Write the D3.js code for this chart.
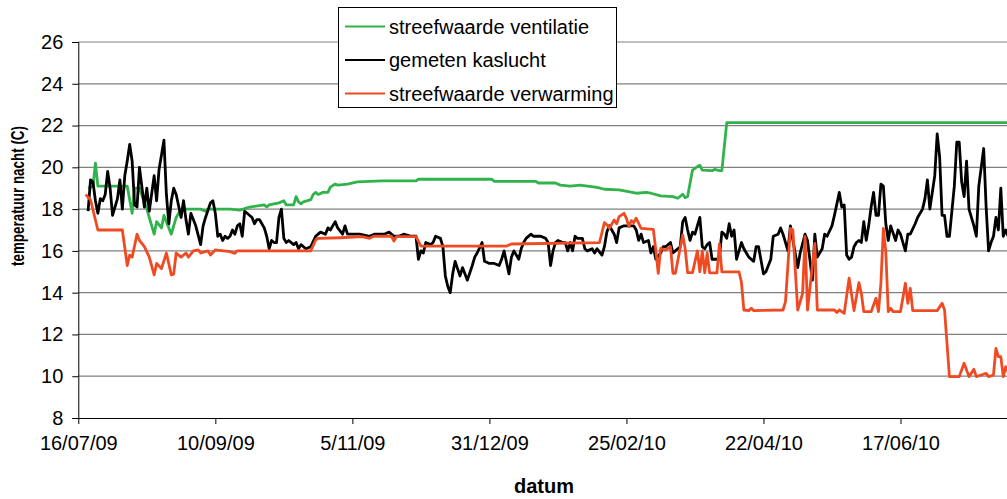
<!DOCTYPE html>
<html>
<head>
<meta charset="utf-8">
<script src="https://cdn.jsdelivr.net/npm/d3@7"></script>
<style>
  html, body { margin: 0; padding: 0; background: #fff; }
  svg { display: block; font-family: "Liberation Sans", Arial, sans-serif; }
</style>
</head>
<body>
<svg id="chart" width="1007" height="499"></svg>
<script>
// ---- data (day offsets from start date, temperature in °C) ----
const startDatum = new Date(2009, 6, 16);

const ventDag = [4,6,7,8,20,22,23,25,28,31,32,34,35,38,40,42,50,52,53,62,66,70,76,77,78,82,84,85,88,89,90,91,92,95,96,97,98,100,102,103,105,106,110,114,124,138,139,169,170,187,188,195,197,201,205,212,215,221,228,232,234,238,243,245,247,248,249,251,252,253,254,255,259,260,262,263,265,380];
const ventWaarde = [19.0,19.1,20.2,19.1,19.1,17.8,19.0,19.0,18.0,16.8,17.4,17.1,17.7,16.8,17.6,18.0,18.0,17.9,18.0,18.0,17.95,18.1,18.2,18.1,18.2,18.3,18.4,18.2,18.2,18.6,18.35,18.25,18.35,18.45,18.7,18.8,18.7,18.8,18.8,19.05,19.2,19.15,19.2,19.3,19.35,19.35,19.43,19.43,19.33,19.33,19.25,19.25,19.15,19.1,19.15,19.04,18.95,18.92,18.76,18.8,18.76,18.63,18.6,18.52,18.71,18.55,18.6,19.87,19.95,20.03,20.1,19.87,19.84,19.9,19.84,19.84,22.14,22.14];

const kasDag = [4,5,6,7,8,9,10,11,12,13,14,16,17,18,19,20,21,22,23,24,25,27,28,29,31,32,33,35,36,37,38,39,40,42,43,44,45,46,47,48,50,51,52,54,55,56,57,58,59,60,61,62,63,64,65,66,67,68,69,71,72,73,74,76,77,78,79,80,81,82,83,84,85,86,88,89,90,91,93,95,97,98,99,101,102,103,105,106,108,109,110,112,115,119,121,125,127,129,131,133,136,138,139,140,141,142,144,145,146,148,149,150,151,152,153,154,156,157,159,161,162,163,165,166,168,170,172,173,174,176,177,178,180,181,182,183,185,186,187,189,191,192,193,194,195,196,198,199,200,201,202,203,204,206,207,208,210,211,212,214,215,216,217,218,219,220,221,223,225,227,228,229,230,231,233,234,235,236,238,239,240,242,243,244,246,247,248,249,250,251,252,254,255,256,257,258,259,261,262,263,264,265,266,267,268,269,271,272,274,276,277,278,280,281,283,284,286,287,288,290,291,294,295,297,298,300,301,302,304,305,306,308,309,311,312,313,314,315,316,317,318,319,320,321,322,323,324,325,326,327,328,329,330,331,332,334,335,336,337,338,339,340,342,343,345,346,347,348,350,351,352,353,354,355,356,358,359,360,361,362,363,364,366,367,368,370,371,372,373,374,375,376,377,378,379,380];
const kasWaarde = [17.9,19.4,19.3,18.4,17.8,18.5,18.4,18.7,19.8,19.0,17.7,18.5,19.4,18.0,19.6,20.3,21.1,20.3,18.2,18.1,20.0,18.1,19.0,17.9,19.6,18.4,19.9,21.3,18.7,17.3,18.4,19.0,18.7,17.6,18.4,17.5,16.8,17.8,17.5,17.2,16.3,17.2,17.6,18.3,18.4,17.8,16.7,16.8,16.5,16.7,16.6,16.7,17.0,16.8,17.2,17.3,16.7,17.9,17.8,17.6,17.3,17.5,17.5,17.1,16.7,16.1,16.5,16.4,16.4,17.6,18.0,16.6,16.4,16.5,16.3,16.4,16.1,16.3,16.1,16.2,16.7,16.8,16.9,16.8,17.1,17.0,17.4,17.1,16.8,17.2,16.8,16.8,16.8,16.7,16.8,16.8,16.9,16.7,16.7,16.8,16.7,16.7,15.6,16.0,15.9,16.4,16.3,16.4,16.7,16.6,16.2,14.8,14.3,14.0,14.9,15.5,14.8,15.2,14.6,15.3,15.7,15.9,16.4,15.5,15.4,15.4,15.3,15.6,16.0,14.9,15.7,16.0,15.6,16.1,16.4,16.6,16.8,16.7,16.7,16.7,16.6,16.4,15.3,16.0,16.4,16.5,16.4,16.4,16.0,16.4,16.0,16.7,16.6,16.6,16.1,16.0,16.1,15.9,16.1,15.8,16.2,16.9,17.2,17.0,16.8,16.4,17.1,17.2,17.2,17.2,17.0,16.5,16.8,16.4,16.5,15.9,16.2,15.6,15.9,16.2,16.2,16.4,15.9,16.0,16.2,17.4,17.6,17.0,16.5,16.9,16.8,17.6,16.2,16.1,16.3,16.4,15.6,15.6,15.7,16.9,16.8,16.6,17.3,16.7,17.0,15.6,16.4,16.1,15.7,15.5,16.2,16.2,14.9,15.0,15.6,16.7,16.8,17.1,16.8,16.0,17.2,15.2,15.9,16.8,16.5,14.6,16.8,15.7,16.1,16.8,16.7,17.2,17.7,18.8,18.1,18.2,15.8,15.6,15.7,16.2,16.4,16.5,16.4,17.4,16.5,17.2,18.1,18.8,17.7,17.7,19.2,19.1,17.3,16.5,17.2,16.5,17.0,16.8,16.4,16.0,16.8,16.8,17.3,17.6,18.0,18.5,19.4,18.0,19.6,21.6,20.5,17.7,17.7,16.7,16.7,19.1,21.2,21.2,19.3,18.6,20.3,18.0,17.2,16.7,19.1,20.9,18.1,16.0,16.4,16.7,17.6,17.0,19.0,16.7,17.0,16.7];

const verwDag = [3,5,8,18,20,21,22,24,25,27,29,31,32,34,36,38,39,40,42,44,45,47,49,50,53,54,56,62,64,65,95,97,98,107,116,119,121,128,129,130,138,140,175,177,213,215,216,217,219,220,221,223,224,225,226,227,228,230,235,236,237,238,240,242,243,244,247,248,249,251,253,254,255,256,257,258,261,262,263,270,271,272,274,275,276,288,289,291,292,294,296,297,298,301,302,309,310,311,313,315,317,319,320,321,324,326,327,328,329,330,331,332,333,336,338,339,340,341,351,353,354,356,360,362,364,366,367,369,371,372,374,375,376,377,378,379,380];
const verwWaarde = [18.7,18.45,17.0,17.0,15.3,15.8,15.7,16.8,16.5,16.2,15.7,14.85,15.4,15.15,15.9,14.85,14.9,15.9,15.7,15.9,15.7,16.0,16.05,15.9,16.0,15.8,16.05,15.96,15.88,16.0,16.0,16.52,16.6,16.63,16.68,16.6,16.71,16.7,16.47,16.68,16.68,16.23,16.23,16.33,16.4,17.35,17.25,17.08,17.48,17.3,17.64,17.8,17.56,17.16,17.45,17.35,17.56,17.08,17.03,16.04,14.93,16.12,16.04,16.2,14.93,14.93,16.76,16.12,14.96,14.96,16.0,15.0,16.0,14.95,15.9,14.95,14.95,16.33,15.0,15.0,14.5,13.17,13.14,13.25,13.14,13.17,13.57,17.08,17.0,13.17,13.97,16.68,13.17,16.36,13.17,13.17,13.05,13.17,13.01,14.69,13.14,14.48,13.97,13.09,13.09,13.73,13.09,14.45,17.08,15.96,13.09,13.25,13.09,13.09,14.45,13.49,14.21,13.14,13.14,13.49,13.17,9.98,9.98,10.62,9.98,10.33,9.98,10.06,10.14,9.98,10.06,11.33,10.94,10.94,9.98,10.46,10.2];

const yTicks = [8,10,12,14,16,18,20,22,24,26];
const xTickDag = [0,56,112,168,224,280,336];
const xTickLabels = ["16/07/09","10/09/09","5/11/09","31/12/09","25/02/10","22/04/10","17/06/10"];

const seriesNames = ["streefwaarde ventilatie","gemeten kaslucht","streefwaarde verwarming"];
const seriesColors = ["#2fb34a","#000000","#f04a23"];

// ---- layout ----
const svg = d3.select("#chart");
const plotLeft = 78.3, plotBottom = 418, plotTop = 42, plotRight = 1007;

const dayToDate = d => d3.timeDay.offset(startDatum, d);
const x = d3.scaleTime()
  .domain([startDatum, dayToDate(380)])
  .range([plotLeft, plotLeft + 380 * 2.447]);
const y = d3.scaleLinear().domain([8, 26]).range([plotBottom, plotTop]);

svg.append("defs").append("clipPath").attr("id", "plotclip")
  .append("rect").attr("x", plotLeft).attr("y", plotTop - 5)
  .attr("width", plotRight - plotLeft).attr("height", plotBottom - plotTop + 10);

// gridlines
svg.append("g").selectAll("line").data(yTicks.filter(t => t > 8)).join("line")
  .attr("x1", plotLeft).attr("x2", plotRight)
  .attr("y1", d => y(d)).attr("y2", d => y(d))
  .attr("stroke", "#808080").attr("stroke-width", 1.2);

// y axis
const yAxis = d3.axisLeft(y).tickValues(yTicks).tickSize(6).tickPadding(9).tickFormat(d3.format("d"));
const gy = svg.append("g").attr("transform", `translate(${plotLeft},0)`).call(yAxis);
gy.select(".domain").attr("stroke", "#000").attr("stroke-width", 1);
gy.selectAll(".tick line").attr("stroke", "#000");
gy.selectAll("text").attr("font-size", 20).attr("font-family", "Liberation Sans, Arial, sans-serif").attr("fill", "#000");

// x axis
const xAxis = d3.axisBottom(x).tickValues(xTickDag.map(dayToDate)).tickSize(6).tickPadding(12)
  .tickFormat((d, i) => xTickLabels[i]);
const gx = svg.append("g").attr("transform", `translate(0,${plotBottom})`).call(xAxis);
gx.select(".domain").attr("d", `M${plotLeft},0.5H${plotRight}`).attr("stroke", "#000").attr("stroke-width", 1);
gx.selectAll(".tick line").attr("stroke", "#000");
gx.selectAll("text").attr("font-size", 20).attr("font-family", "Liberation Sans, Arial, sans-serif").attr("fill", "#000");

// lines
const line = d3.line().x(d => x(dayToDate(d[0]))).y(d => y(d[1]));
const series = [
  d3.zip(ventDag, ventWaarde),
  d3.zip(kasDag, kasWaarde),
  d3.zip(verwDag, verwWaarde)
];
const gl = svg.append("g").attr("clip-path", "url(#plotclip)");
series.forEach((s, i) => {
  gl.append("path").datum(s).attr("d", line)
    .attr("fill", "none").attr("stroke", seriesColors[i])
    .attr("stroke-width", 2.8).attr("stroke-linejoin", "round");
});

// axis titles
svg.append("text").attr("x", 544).attr("y", 493).attr("text-anchor", "middle")
  .attr("font-size", 20).attr("font-weight", "bold").text("datum");
svg.append("text").attr("transform", "translate(24,196) rotate(-90)")
  .attr("text-anchor", "middle").attr("font-size", 19).attr("font-weight", "bold")
  .attr("textLength", 140).attr("lengthAdjust", "spacingAndGlyphs")
  .text("temperatuur nacht (C)");

// legend
const lg = svg.append("g");
lg.append("rect").attr("x", 338.5).attr("y", 7.5).attr("width", 278).attr("height", 100)
  .attr("fill", "#fff").attr("stroke", "#000").attr("stroke-width", 1);
seriesNames.forEach((n, i) => {
  const cy = 26.5 + i * 33.5;
  lg.append("line").attr("x1", 345).attr("x2", 385).attr("y1", cy).attr("y2", cy)
    .attr("stroke", seriesColors[i]).attr("stroke-width", 2);
  lg.append("text").attr("x", 389).attr("y", cy + 7).attr("font-size", 20).text(n);
});
</script>
</body>
</html>
